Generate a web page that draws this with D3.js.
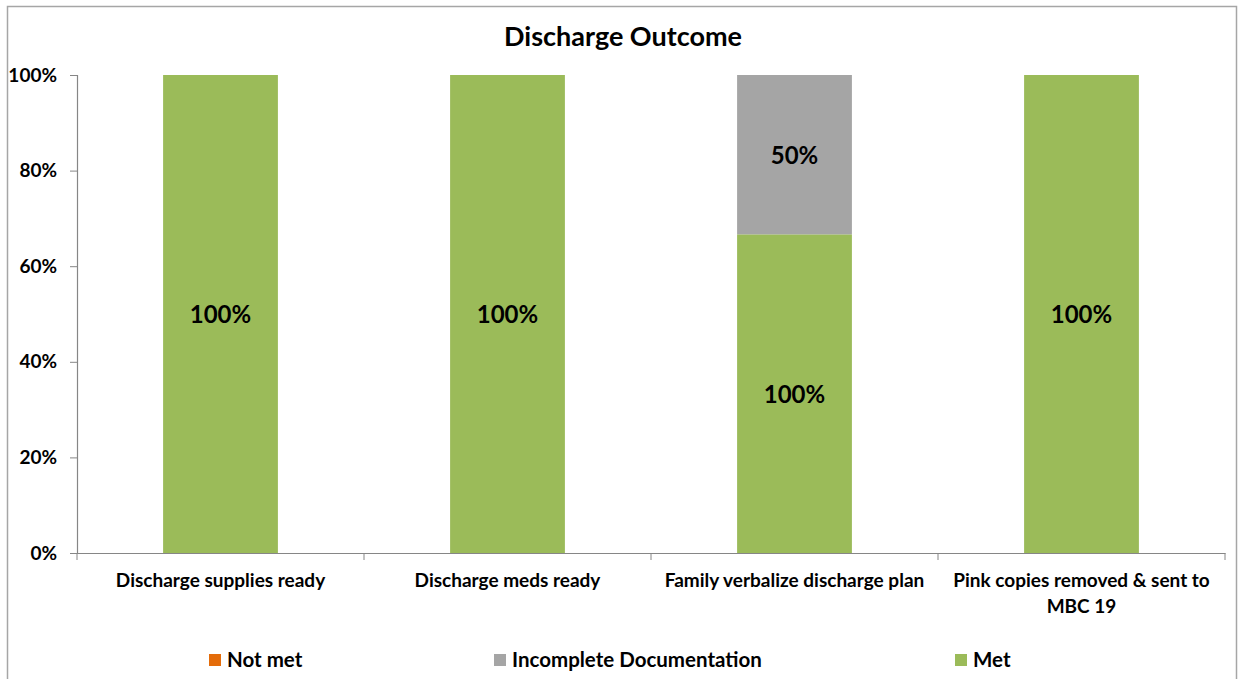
<!DOCTYPE html>
<html><head><meta charset="utf-8">
<script src="https://cdn.jsdelivr.net/npm/d3@7"></script>
<style>body{margin:0;background:#fff;}svg{display:block;font-family:Lato,"Open Sans","Liberation Sans",sans-serif;}</style>
</head><body>
<svg id="c" width="1238" height="679"></svg>
<script>
const categories = ["Discharge supplies ready","Discharge meds ready","Family verbalize discharge plan","Pink copies removed & sent to MBC 19"];
const seriesNames = ["Not met","Incomplete Documentation","Met"];
const notMet = [0,0,0,0];
const incomplete = [0,0,50,0];
const met = [100,100,100,100];
const yTicks = [0,0.2,0.4,0.6,0.8,1];
const colors = {"Not met":"#E46C0A","Incomplete Documentation":"#A5A5A5","Met":"#9BBB59"};
const FONT = "Lato,'Open Sans','Liberation Sans',sans-serif";

const svg = d3.select("#c");
svg.append("rect").attr("x",7.5).attr("y",6.5).attr("width",1229).attr("height",690)
  .attr("fill","#fff").attr("stroke","#a6a6a6").attr("stroke-width",1.5);

const pLeft=77, pRight=1225, pTop=75, pBottom=553;
const x = d3.scaleBand().domain(categories).range([pLeft,pRight]).paddingInner(0.6).paddingOuter(0.3);
const xs = d3.scaleBand().domain(categories).range([pLeft,pRight]);
const y = d3.scaleLinear().domain([0,1]).range([pBottom,pTop]);

const rows = categories.map((c,i)=>({cat:c, "Not met":notMet[i], "Incomplete Documentation":incomplete[i], "Met":met[i]}));
const stack = d3.stack().keys(["Met","Incomplete Documentation","Not met"]).offset(d3.stackOffsetExpand);
const layers = stack(rows);

svg.append("text").attr("x",623).attr("y",46).attr("text-anchor","middle")
  .attr("font-size",27).attr("font-weight","bold").attr("fill","#000").text("Discharge Outcome");

// y axis
const ya = svg.append("g").attr("transform",`translate(${pLeft},0)`)
  .call(d3.axisLeft(y).tickValues(yTicks).tickFormat(d3.format(".0%")).tickSize(7).tickPadding(13));
ya.select(".domain").attr("stroke","#868686").attr("stroke-width",1.2);
ya.selectAll(".tick line").attr("stroke","#868686");
ya.selectAll("text").attr("font-size",19).attr("font-weight","bold").attr("fill","#000").attr("font-family",FONT);

// bars
layers.forEach(layer=>{
  svg.append("g").selectAll("rect").data(layer).join("rect")
    .attr("x",d=>x(d.data.cat)).attr("width",x.bandwidth())
    .attr("y",d=>y(d[1])).attr("height",d=>y(d[0])-y(d[1]))
    .attr("fill",colors[layer.key]);
  svg.append("g").selectAll("text").data(layer.filter(d=>d.data[layer.key]>0)).join("text")
    .attr("x",d=>x(d.data.cat)+x.bandwidth()/2).attr("y",d=>(y(d[0])+y(d[1]))/2+9)
    .attr("text-anchor","middle").attr("font-size",24).attr("font-weight","bold").attr("fill","#000")
    .text(d=>d.data[layer.key]+"%");
});

// x axis
const xa = svg.append("g").attr("transform",`translate(0,${pBottom})`)
  .call(d3.axisBottom(xs).tickSize(0).tickFormat(""));
xa.select(".domain").attr("stroke","#868686").attr("stroke-width",1.2);
const seps = [0,1,2,3,4].map(i=>pLeft+i*xs.step());
xa.selectAll("line.sep").data(seps).join("line").attr("class","sep")
  .attr("x1",d=>d).attr("x2",d=>d).attr("y1",0).attr("y2",7).attr("stroke","#868686");
const xLabelLines = [["Discharge supplies ready"],["Discharge meds ready"],["Family verbalize discharge plan"],["Pink copies removed & sent to","MBC 19"]];
categories.forEach((c,i)=>{
  const t = svg.append("text").attr("x",xs(c)+xs.bandwidth()/2).attr("y",587)
    .attr("text-anchor","middle").attr("font-size",19).attr("font-weight","bold").attr("fill","#000");
  xLabelLines[i].forEach((l,j)=>t.append("tspan").attr("x",xs(c)+xs.bandwidth()/2).attr("dy",j?26:0).text(l));
});

// legend
const legX = [209,494,955];
seriesNames.forEach((s,i)=>{
  svg.append("rect").attr("x",legX[i]).attr("y",654).attr("width",12).attr("height",12).attr("fill",colors[s]);
  svg.append("text").attr("x",legX[i]+18).attr("y",667).attr("font-size",20.5).attr("font-weight","bold").attr("fill","#000").text(s);
});
</script>
</body></html>
